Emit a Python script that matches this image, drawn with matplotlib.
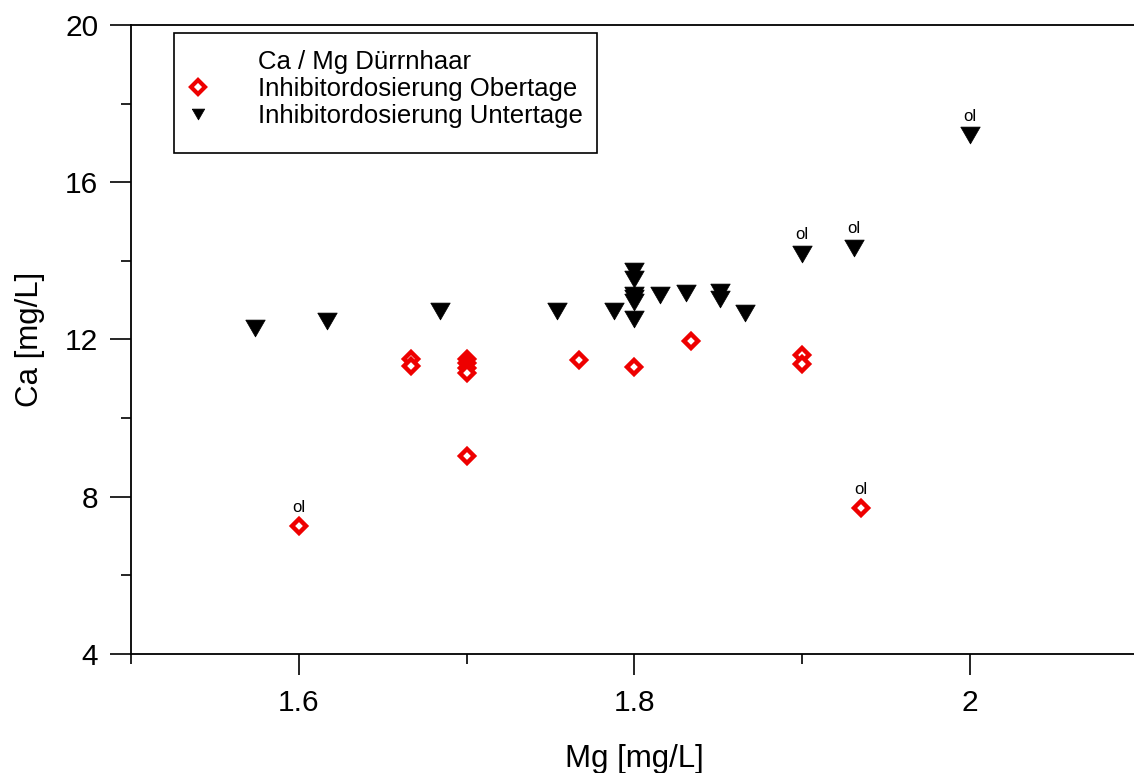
import matplotlib
matplotlib.use("Agg")
import matplotlib.pyplot as plt
from matplotlib.lines import Line2D
from matplotlib.patches import Rectangle
from matplotlib.ticker import FixedLocator

plt.rcParams['font.family'] = ['Liberation Sans', 'DejaVu Sans']

# Inhibitordosierung Obertage (Mg, Ca in mg/L)
mg_ober = [1.600, 1.667, 1.667, 1.700, 1.700, 1.700, 1.700, 1.700,
           1.767, 1.800, 1.834, 1.900, 1.900, 1.935]
ca_ober = [7.25, 11.50, 11.33, 11.50, 11.39, 11.28, 11.16, 9.04,
           11.48, 11.31, 11.97, 11.60, 11.38, 7.71]
ol_ober = [True, False, False, False, False, False, False, False,
           False, False, False, False, False, True]

# Inhibitordosierung Untertage (Mg, Ca in mg/L)
mg_unter = [1.574, 1.617, 1.684, 1.754, 1.788, 1.800, 1.800, 1.800,
            1.800, 1.800, 1.800, 1.815, 1.831, 1.851, 1.851, 1.866,
            1.900, 1.931, 2.000]
ca_unter = [12.29, 12.48, 12.73, 12.73, 12.72, 13.73, 13.54, 13.13,
            13.05, 12.96, 12.52, 13.13, 13.18, 13.20, 13.03, 12.67,
            14.18, 14.33, 17.19]
ol_unter = [False] * 16 + [True, True, True]

x_major = [1.6, 1.8, 2.0]
x_major_labels = ["1.6", "1.8", "2"]
x_minor = [1.5, 1.7, 1.9, 2.1]
y_major = [4, 8, 12, 16, 20]
y_minor = [6, 10, 14, 18]

legend_title = "Ca / Mg Dürrnhaar"
label_ober = "Inhibitordosierung Obertage"
label_unter = "Inhibitordosierung Untertage"

RED = "#ee0000"
# equilateral, point-down triangle
tri_down = [(-1.0, 0.866), (1.0, 0.866), (0.0, -0.866), (-1.0, 0.866)]

fig = plt.figure(figsize=(11.34, 7.73), dpi=100)
ax = fig.add_axes([0.11552, 0.15395, 0.8878, 0.81371])

ax.plot(mg_ober, ca_ober, linestyle="none", marker="D", markersize=7,
        markerfacecolor="white", markeredgecolor=RED, markeredgewidth=3.2,
        zorder=3)
ax.plot(mg_unter, ca_unter, linestyle="none", marker=tri_down,
        markersize=14, markerfacecolor="black", markeredgecolor="black",
        markeredgewidth=0.5, zorder=3)

for xs, ys, flags in ((mg_ober, ca_ober, ol_ober),
                      (mg_unter, ca_unter, ol_unter)):
    for x, y, f in zip(xs, ys, flags):
        if f:
            ax.annotate("ol", (x, y), xytext=(0, 10.5),
                        textcoords="offset points", ha="center",
                        va="baseline", fontsize=12)

ax.set_xlim(1.5, 2.1)
ax.set_ylim(4, 20)

ax.xaxis.set_major_locator(FixedLocator(x_major))
ax.set_xticklabels(x_major_labels)
ax.xaxis.set_minor_locator(FixedLocator(x_minor))
ax.yaxis.set_major_locator(FixedLocator(y_major))
ax.yaxis.set_minor_locator(FixedLocator(y_minor))

ax.tick_params(axis="both", which="major", direction="out", length=15,
               width=1.2, labelsize=21.5, color="black")
ax.tick_params(axis="both", which="minor", direction="out", length=7.5,
               width=1.2)
ax.tick_params(axis="x", which="major", pad=10.5)
ax.tick_params(axis="y", which="major", pad=8.5)
ax.tick_params(top=False, right=False, which="both")

for side in ("left", "bottom", "top"):
    ax.spines[side].set_linewidth(1.3)
ax.spines["right"].set_visible(False)

ax.set_xlabel("Mg [mg/L]", fontsize=22.5)
ax.set_ylabel("Ca [mg/L]", fontsize=22.5)
ax.xaxis.set_label_coords(0.5, -0.1435)
ax.yaxis.set_label_coords(-0.085, 0.5)

# legend frame and entries
frame = Rectangle((0.0427, 0.7965), 0.4201, 0.1908, transform=ax.transAxes,
                  facecolor="white", edgecolor="black", linewidth=1.2,
                  zorder=4)
ax.add_patch(frame)
handles = [
    Line2D([], [], linestyle="none", label=legend_title),
    Line2D([], [], linestyle="none", marker="D", markersize=7,
           markerfacecolor="white", markeredgecolor=RED,
           markeredgewidth=3.0, label=label_ober),
    Line2D([], [], linestyle="none", marker=tri_down, markersize=9,
           markerfacecolor="black", markeredgecolor="black",
           markeredgewidth=0.5, label=label_unter),
]
leg = ax.legend(handles=handles, loc="upper left",
                bbox_to_anchor=(0.0536, 0.9603), frameon=False,
                borderpad=0, borderaxespad=0, handlelength=1.0,
                handletextpad=1.86, labelspacing=0.12, fontsize=18.5)
leg.set_zorder(5)

fig.savefig("out.png", dpi=100)
